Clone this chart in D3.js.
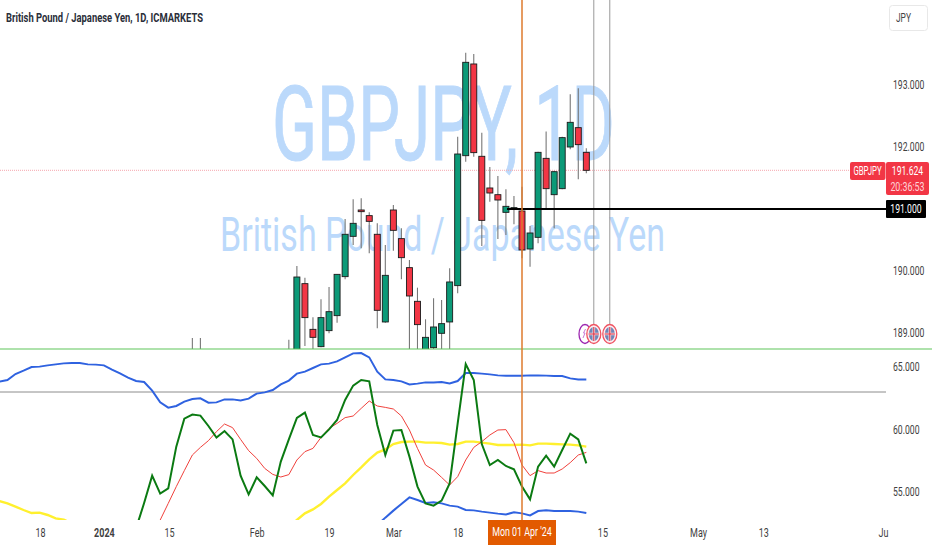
<!DOCTYPE html>
<html>
<head>
<meta charset="utf-8">
<script src="https://cdn.jsdelivr.net/npm/d3@7"></script>
<style>
body { margin: 0; background: #fff; overflow: hidden; }
text { font-family: Roboto, "Open Sans", sans-serif; }
.axis text { font-size: 12px; fill: #3f3f3f; }
</style>
</head>
<body>
<div id="chart"></div>
<script>
// candles (bar number counts from the left edge)
var barIndex = [24, 25, 36, 37, 38, 39, 40, 41, 42, 43, 44, 45, 46, 47, 48, 49, 50, 51, 52, 53, 54, 55, 56, 57, 58, 59, 60, 61, 62, 63, 64, 65, 66, 67, 68, 69, 70, 71, 72, 73];
var opens = [188.3, 188.5, 188.3, 188.5, 189.796, 189.059, 188.78, 189.038, 189.28, 189.909, 190.559, 190.984, 190.893, 190.592, 189.178, 190.984, 190.522, 190.054, 189.511, 188.7, 188.764, 188.995, 189.178, 189.764, 191.86, 193.339, 191.85, 191.339, 191.231, 190.946, 191.011, 190.968, 190.355, 190.543, 191.817, 191.231, 191.328, 192.0, 192.312, 191.914];
var highs = [188.92, 188.92, 188.89, 190.081, 189.893, 189.253, 189.543, 189.742, 189.946, 190.839, 191.156, 191.172, 190.946, 190.769, 190.42, 191.065, 190.688, 190.178, 189.731, 189.221, 189.559, 189.532, 190.043, 192.167, 193.522, 193.5, 192.231, 191.678, 191.532, 191.317, 191.21, 191.36, 190.726, 191.925, 192.248, 191.618, 192.167, 192.85, 192.946, 191.979];
var lows = [188.1, 188.2, 188.1, 188.4, 188.791, 188.7, 188.769, 188.995, 189.167, 189.866, 190.42, 190.366, 190.285, 189.075, 189.167, 190.328, 189.866, 188.6, 188.6, 188.6, 188.7, 188.7, 188.7, 189.64, 191.764, 191.844, 190.403, 191.118, 190.516, 190.581, 190.753, 190.204, 190.07, 190.446, 191.011, 190.688, 191.317, 191.963, 191.479, 191.575];
var closes = [188.5, 188.4, 188.6, 189.903, 189.248, 188.93, 189.248, 189.344, 189.946, 190.592, 190.769, 190.957, 190.801, 189.366, 189.93, 190.656, 190.215, 189.597, 189.135, 188.93, 189.097, 189.151, 189.823, 191.887, 193.366, 191.909, 190.817, 191.258, 191.145, 191.043, 191.022, 190.339, 190.613, 191.914, 191.328, 191.602, 192.151, 192.398, 192.038, 191.624];

// indicator lines in the lower pane
var blueUpper = [63.83, 63.96, 64.44, 64.71, 65.00, 65.03, 65.13, 65.21, 65.29, 65.32, 65.32, 65.21, 65.19, 65.13, 64.79, 64.49, 64.15, 63.88, 63.80, 63.11, 62.17, 61.75, 61.88, 62.23, 62.44, 62.49, 62.15, 62.17, 62.41, 62.41, 62.33, 62.47, 62.87, 62.97, 63.16, 63.61, 63.91, 64.47, 64.63, 64.92, 65.21, 65.27, 65.45, 65.77, 66.09, 66.12, 65.77, 64.63, 64.01, 63.96, 63.85, 63.61, 63.67, 63.77, 63.77, 63.80, 63.69, 63.88, 64.52, 64.52, 64.47, 64.41, 64.33, 64.31, 64.31, 64.31, 64.33, 64.33, 64.31, 64.28, 64.28, 64.09, 64.01, 64.01];
var greenStart = 17;
var greenLine = [52.09, 54.12, 56.31, 54.87, 55.29, 58.63, 60.87, 61.19, 61.11, 60.28, 59.35, 59.88, 59.21, 56.31, 54.81, 56.17, 55.48, 54.73, 57.43, 59.21, 60.92, 61.35, 59.56, 59.37, 60.01, 60.76, 62.36, 63.51, 63.96, 63.85, 60.36, 57.96, 59.91, 59.96, 57.83, 55.43, 54.09, 53.91, 54.31, 55.69, 60.49, 65.24, 63.96, 58.84, 57.16, 57.56, 57.08, 56.81, 55.43, 54.41, 57.03, 57.91, 57.03, 58.36, 59.67, 59.21, 57.29];
var redStart = 19;
var redLine = [51.43, 52.76, 54.09, 55.43, 56.71, 57.96, 58.57, 59.11, 59.83, 60.44, 60.15, 59.21, 58.31, 57.69, 56.89, 56.41, 56.20, 56.39, 57.56, 58.23, 58.49, 59.37, 60.09, 60.49, 60.95, 61.08, 61.69, 62.28, 61.88, 61.77, 61.64, 61.08, 59.96, 58.49, 57.16, 56.76, 56.17, 55.56, 56.23, 57.56, 58.57, 59.03, 59.56, 59.96, 59.99, 58.95, 57.16, 56.31, 56.71, 56.52, 56.52, 56.84, 57.35, 57.96, 58.17];
var yellowLeft = [54.28, 54.09, 53.83, 53.56, 53.32, 53.35, 53.16, 52.89, 52.79, 52.49];
var yellowRightStart = 36;
var yellowRight = [52.23, 52.76, 53.29, 53.61, 54.04, 54.63, 55.16, 55.69, 56.36, 56.97, 57.61, 58.15, 58.41, 58.84, 59.00, 59.03, 59.03, 58.95, 58.95, 58.92, 58.79, 58.84, 59.03, 59.03, 58.95, 58.87, 58.76, 58.76, 58.76, 58.79, 58.73, 58.87, 58.87, 58.84, 58.81, 58.79, 58.73, 58.63];
var blueLowStart = 47;
var blueLower = [52.36, 52.95, 53.51, 54.04, 54.57, 54.36, 54.12, 54.17, 54.09, 53.91, 53.83, 53.56, 53.53, 53.43, 53.35, 53.27, 53.21, 53.37, 53.29, 53.13, 53.48, 53.53, 53.48, 53.48, 53.48, 53.43, 53.32];

// ticks
var priceTicks = [193, 192, 190, 189];
var paneTicks = [65, 60, 55];
var timeTicks = [5.05, 13, 21.1, 32, 41, 49, 57, 75, 86.9, 95, 109.9];
var timeLabels = ["18", "2024", "15", "Feb", "19", "Mar", "18", "15", "May", "13", "Ju"];
var lastPrice = 191.624;
var levelPrice = 191;
var levelPaneGrey = 63;
var markerBar = 65;
var newsBars = [73.93, 75.92];

var width = 932, height = 550;
var paneTop = 349, paneBottom = 520, axisX = 886;

var x = d3.scaleLinear().domain([0, 65]).range([-0.6, 522]);
var y = d3.scaleLinear().domain([193, 189]).range([85, 333]);
var yPane = d3.scaleLinear().domain([65, 55]).range([367, 492]);

var svg = d3.select("#chart").append("svg")
    .attr("width", width)
    .attr("height", height)
    .style("display", "block");

// the font in the picture is narrow, so squeeze each label horizontally
function narrow(sel, factor) {
    sel.each(function() {
        var t = d3.select(this);
        t.attr("x", (+t.attr("x") || 0) / factor)
            .attr("transform", "scale(" + factor + ",1)");
    });
}

var defs = svg.append("defs");
defs.append("clipPath").attr("id", "clipTop").append("rect")
    .attr("x", 0).attr("y", 0).attr("width", axisX).attr("height", paneTop);
defs.append("clipPath").attr("id", "clipPane").append("rect")
    .attr("x", 0).attr("y", paneTop).attr("width", axisX).attr("height", paneBottom - paneTop);

// watermark
svg.append("text")
    .attr("x", 272).attr("y", 160)
    .attr("textLength", 343).attr("lengthAdjust", "spacingAndGlyphs")
    .style("font-size", "103px")
    .style("fill", "#bbd9fb")
    .style("stroke", "#bbd9fb")
    .style("stroke-width", 1)
    .text("GBPJPY, 1D");
svg.append("text")
    .attr("x", 220).attr("y", 251)
    .attr("textLength", 445).attr("lengthAdjust", "spacingAndGlyphs")
    .style("font-size", "48px")
    .style("fill", "#bbd9fb")
    .text("British Pound / Japanese Yen");

// last price dotted line
svg.append("line")
    .attr("x1", 0).attr("x2", 850)
    .attr("y1", y(lastPrice)).attr("y2", y(lastPrice))
    .attr("stroke", "#f5a5ad")
    .attr("stroke-dasharray", "1,1");

// candles
var candles = svg.append("g").attr("clip-path", "url(#clipTop)");
var bar = candles.selectAll(".candle")
    .data(barIndex)
    .enter().append("g")
    .attr("class", "candle");
bar.append("line")
    .attr("x1", function(d) { return x(d); })
    .attr("x2", function(d) { return x(d); })
    .attr("y1", function(d, i) { return y(highs[i]); })
    .attr("y2", function(d, i) { return y(lows[i]); })
    .attr("stroke", "#777")
    .attr("stroke-width", 1.1);
bar.append("rect")
    .attr("x", function(d) { return x(d) - 3; })
    .attr("width", 6)
    .attr("y", function(d, i) { return y(Math.max(opens[i], closes[i])); })
    .attr("height", function(d, i) { return Math.max(1, Math.abs(y(opens[i]) - y(closes[i]))); })
    .attr("fill", function(d, i) { return closes[i] >= opens[i] ? "#0c9a78" : "#f23645"; })
    .attr("stroke", "#1a1a1a")
    .attr("stroke-width", 0.9);

// news lines and their icons
svg.selectAll(".newsLine")
    .data(newsBars)
    .enter().append("line")
    .attr("class", "newsLine")
    .attr("x1", function(d) { return x(d); })
    .attr("x2", function(d) { return x(d); })
    .attr("y1", 0).attr("y2", 324)
    .attr("stroke", "#999");

svg.append("ellipse")
    .attr("cx", 585).attr("cy", 334).attr("rx", 6).attr("ry", 9.5)
    .attr("fill", "#fff").attr("stroke", "#9c27b0").attr("stroke-width", 1.3);
svg.append("path")
    .attr("d", "M583,338L585,333L583.5,333L585.5,329")
    .attr("fill", "none").attr("stroke", "#c77dd6");
var flag = svg.selectAll(".flag")
    .data(newsBars)
    .enter().append("g")
    .attr("class", "flag")
    .attr("transform", function(d) { return "translate(" + x(d) + ",334)"; });
flag.append("ellipse")
    .attr("rx", 7).attr("ry", 9.5)
    .attr("fill", "#fdeef0").attr("stroke", "#ef5362").attr("stroke-width", 1.3);
flag.append("ellipse")
    .attr("rx", 5).attr("ry", 7)
    .attr("fill", "#6f86b8");
flag.append("path")
    .attr("d", "M-5,0H5M0,-7V7")
    .attr("stroke", "#f7dde0").attr("stroke-width", 2.6);
flag.append("path")
    .attr("d", "M-5,0H5M0,-7V7")
    .attr("stroke", "#d9364a").attr("stroke-width", 1.1);

// horizontal level
svg.append("line")
    .attr("x1", 507).attr("x2", axisX)
    .attr("y1", y(levelPrice)).attr("y2", y(levelPrice))
    .attr("stroke", "#000")
    .attr("stroke-width", 1.8);

// lower pane
svg.append("line")
    .attr("x1", 0).attr("x2", width)
    .attr("y1", paneTop).attr("y2", paneTop)
    .attr("stroke", "#5fc65a")
    .attr("stroke-width", 1.2);
svg.append("line")
    .attr("x1", 0).attr("x2", axisX)
    .attr("y1", yPane(levelPaneGrey)).attr("y2", yPane(levelPaneGrey))
    .attr("stroke", "#8c8c8c")
    .attr("stroke-width", 1);

var paneLine = d3.line()
    .x(function(d) { return x(d[0]); })
    .y(function(d) { return yPane(d[1]); });

function withBars(values, start) {
    return values.map(function(v, i) { return [start + i, v]; });
}

var pane = svg.append("g").attr("clip-path", "url(#clipPane)");
function drawLine(values, start, color, w) {
    pane.append("path")
        .attr("d", paneLine(withBars(values, start)))
        .attr("fill", "none")
        .attr("stroke", color)
        .attr("stroke-width", w);
}
drawLine(yellowLeft, 0, "#fff02e", 2.4);
drawLine(yellowRight, yellowRightStart, "#fff02e", 2.4);
drawLine(blueUpper, 0, "#2f62e0", 2);
drawLine(blueLower, blueLowStart, "#2f62e0", 2);
drawLine(redLine, redStart, "#f0413c", 1);
drawLine(greenLine, greenStart, "#0b7a12", 2);

// marker line for the selected date
svg.append("line")
    .attr("x1", x(markerBar)).attr("x2", x(markerBar))
    .attr("y1", 0).attr("y2", paneBottom)
    .attr("stroke", "#de7a2c")
    .attr("stroke-width", 1.5);

// axes
var priceAxis = d3.axisRight(y)
    .tickValues(priceTicks)
    .tickSize(0)
    .tickPadding(7)
    .tickFormat(d3.format(".3f"));
svg.append("g")
    .attr("class", "axis")
    .attr("transform", "translate(" + axisX + ",0)")
    .call(priceAxis)
    .call(function(g) { g.select(".domain").remove(); })
    .selectAll("text").call(narrow, 0.72);

var paneAxis = d3.axisRight(yPane)
    .tickValues(paneTicks)
    .tickSize(0)
    .tickPadding(7)
    .tickFormat(d3.format(".3f"));
svg.append("g")
    .attr("class", "axis")
    .attr("transform", "translate(" + axisX + ",0)")
    .call(paneAxis)
    .call(function(g) { g.select(".domain").remove(); })
    .selectAll("text").call(narrow, 0.72);

var timeAxis = d3.axisBottom(x)
    .tickValues(timeTicks)
    .tickSize(0)
    .tickPadding(7)
    .tickFormat(function(d, i) { return timeLabels[i]; });
svg.append("g")
    .attr("class", "axis")
    .attr("transform", "translate(0,521)")
    .call(timeAxis)
    .call(function(g) { g.select(".domain").remove(); })
    .selectAll("text")
    .style("font-weight", function(d, i) { return timeLabels[i] == "2024" ? "bold" : "normal"; })
    .call(narrow, 0.75);

// date tag
svg.append("rect")
    .attr("x", 488).attr("y", 520).attr("width", 68).attr("height", 25)
    .attr("fill", "#e25a00");
svg.append("text")
    .attr("x", x(markerBar)).attr("y", 536)
    .attr("text-anchor", "middle")
    .style("font-size", "12px").style("fill", "#fff")
    .text("Mon 01 Apr '24")
    .call(narrow, 0.74);

// price tags
svg.append("rect")
    .attr("x", 850).attr("y", 162).attr("width", 35.5).attr("height", 18).attr("rx", 2)
    .attr("fill", "#f23645");
svg.append("text")
    .attr("x", 867.5).attr("y", 175)
    .attr("text-anchor", "middle")
    .style("font-size", "12px").style("fill", "#fff")
    .text("GBPJPY")
    .call(narrow, 0.65);
svg.append("rect")
    .attr("x", 886).attr("y", 162).attr("width", 43).attr("height", 33).attr("rx", 2)
    .attr("fill", "#f23645");
svg.append("text")
    .attr("x", 907.5).attr("y", 175)
    .attr("text-anchor", "middle")
    .style("font-size", "12px").style("fill", "#fff")
    .text(d3.format(".3f")(lastPrice))
    .call(narrow, 0.72);
svg.append("text")
    .attr("x", 907.5).attr("y", 191)
    .attr("text-anchor", "middle")
    .style("font-size", "12px").style("fill", "#ffd3d8")
    .text("20:36:53")
    .call(narrow, 0.74);
svg.append("rect")
    .attr("x", 886).attr("y", 200).attr("width", 40).attr("height", 18).attr("rx", 1)
    .attr("fill", "#000");
svg.append("text")
    .attr("x", 906).attr("y", 213)
    .attr("text-anchor", "middle")
    .style("font-size", "12px").style("fill", "#fff")
    .text(d3.format(".3f")(levelPrice))
    .call(narrow, 0.72);

// currency button
svg.append("rect")
    .attr("x", 889.5).attr("y", 5.5).attr("width", 38).attr("height", 25).attr("rx", 3)
    .attr("fill", "#fff").attr("stroke", "#e8e8e8");
svg.append("text")
    .attr("x", 896).attr("y", 22)
    .style("font-size", "12px").style("fill", "#444")
    .text("JPY")
    .call(narrow, 0.7);

// title
svg.append("text")
    .attr("x", 6).attr("y", 22)
    .attr("textLength", 197).attr("lengthAdjust", "spacingAndGlyphs")
    .style("font-size", "13px")
    .style("font-weight", "bold")
    .style("fill", "#2a2e39")
    .text("British Pound / Japanese Yen, 1D, ICMARKETS");
</script>
</body>
</html>
